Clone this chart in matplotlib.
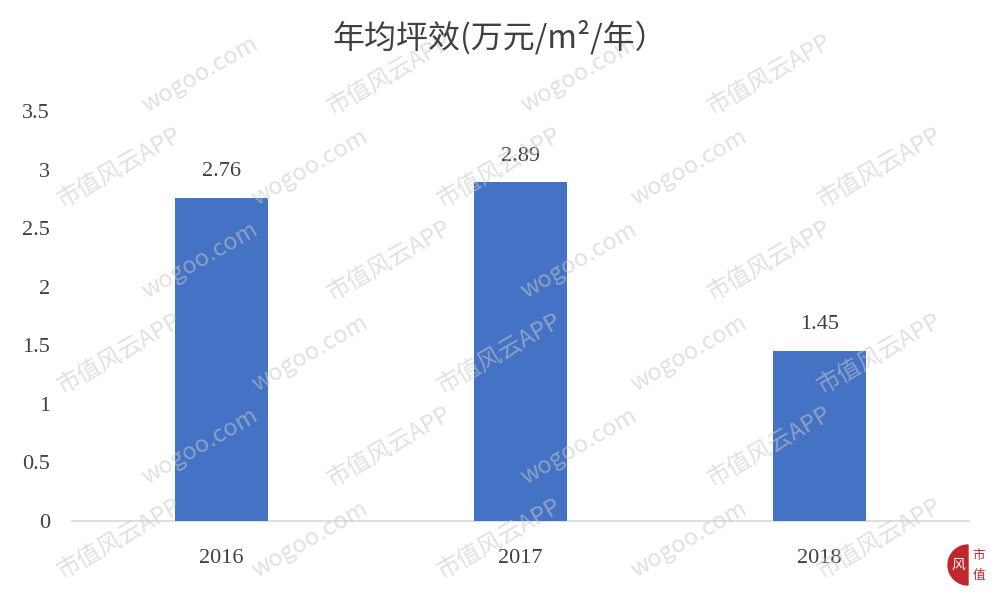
import matplotlib.pyplot as plt
from matplotlib.patches import Wedge
import numpy as np

# 数据
years = ['2016', '2017', '2018']
values = [2.76, 2.89, 1.45]
yticks = [0, 0.5, 1, 1.5, 2, 2.5, 3, 3.5]
ytick_labels = ['0', '0.5', '1', '1.5', '2', '2.5', '3', '3.5']
title = '年均坪效(万元/m²/年）'

plt.rcParams['font.family'] = ['Liberation Serif', 'Noto Sans CJK SC']

fig = plt.figure(figsize=(9.99, 5.99), dpi=100)
ax = fig.add_axes([72 / 999, 1 - 521 / 599, (969 - 72) / 999, (521 - 111) / 599])

x = np.arange(len(years))
bars = ax.bar(x, values, width=0.314, color='#4472C4', zorder=3)

for xi, v in zip(x, values):
    ax.annotate(f'{v:.2f}', (xi, v), xytext=(0, 12), textcoords='offset points',
                ha='center', va='bottom', fontsize=16, color='#404040')

ax.set_xlim(-0.5, len(years) - 0.5)
ax.set_ylim(0, 3.5)
ax.set_xticks(x)
ax.set_xticklabels(years, fontsize=16, color='#404040')
ax.set_yticks(yticks)
ax.set_yticklabels(ytick_labels, fontsize=16, color='#404040')
ax.tick_params(axis='both', length=0)
ax.tick_params(axis='x', pad=20)
ax.tick_params(axis='y', pad=16)

for s in ['top', 'right', 'left']:
    ax.spines[s].set_visible(False)
ax.spines['bottom'].set_color('#D9D9D9')
ax.spines['bottom'].set_linewidth(1.2)

fig.text(0.5, 1 - 37 / 599, title, ha='center', va='center', fontsize=23,
         color='#404040', family=['Noto Sans CJK SC', 'DejaVu Sans'])

# 水印
for row in range(6):
    for col in range(5):
        px = 0.12 + col * 0.19 + (row % 2) * 0.08
        py = 0.10 + row * 0.155
        if px > 0.9:
            continue
        label = '市值风云APP' if (row + col) % 2 == 0 else 'wogoo.com'
        fig.text(px, py, label, rotation=30, fontsize=17, color='#C8C8C8', alpha=0.55,
                 ha='center', va='center', family=['Noto Sans CJK SC', 'DejaVu Sans'],
                 zorder=0)

# 角标
logo = Wedge((968 / 100, (599 - 565) / 100), 0.2, 90, 270,
             transform=fig.dpi_scale_trans, color='#C0272D', zorder=5)
fig.patches.append(logo)
fig.text(958 / 999, 1 - 565 / 599, '风', fontsize=10, color='white', ha='center',
         va='center', family=['Noto Sans CJK SC'], zorder=6)
fig.text(979 / 999, 1 - 556 / 599, '市', fontsize=9, color='#C0272D', ha='center',
         va='center', family=['Noto Sans CJK SC'])
fig.text(979 / 999, 1 - 575 / 599, '值', fontsize=9, color='#C0272D', ha='center',
         va='center', family=['Noto Sans CJK SC'])

fig.savefig('out.png', dpi=100, facecolor='white')
